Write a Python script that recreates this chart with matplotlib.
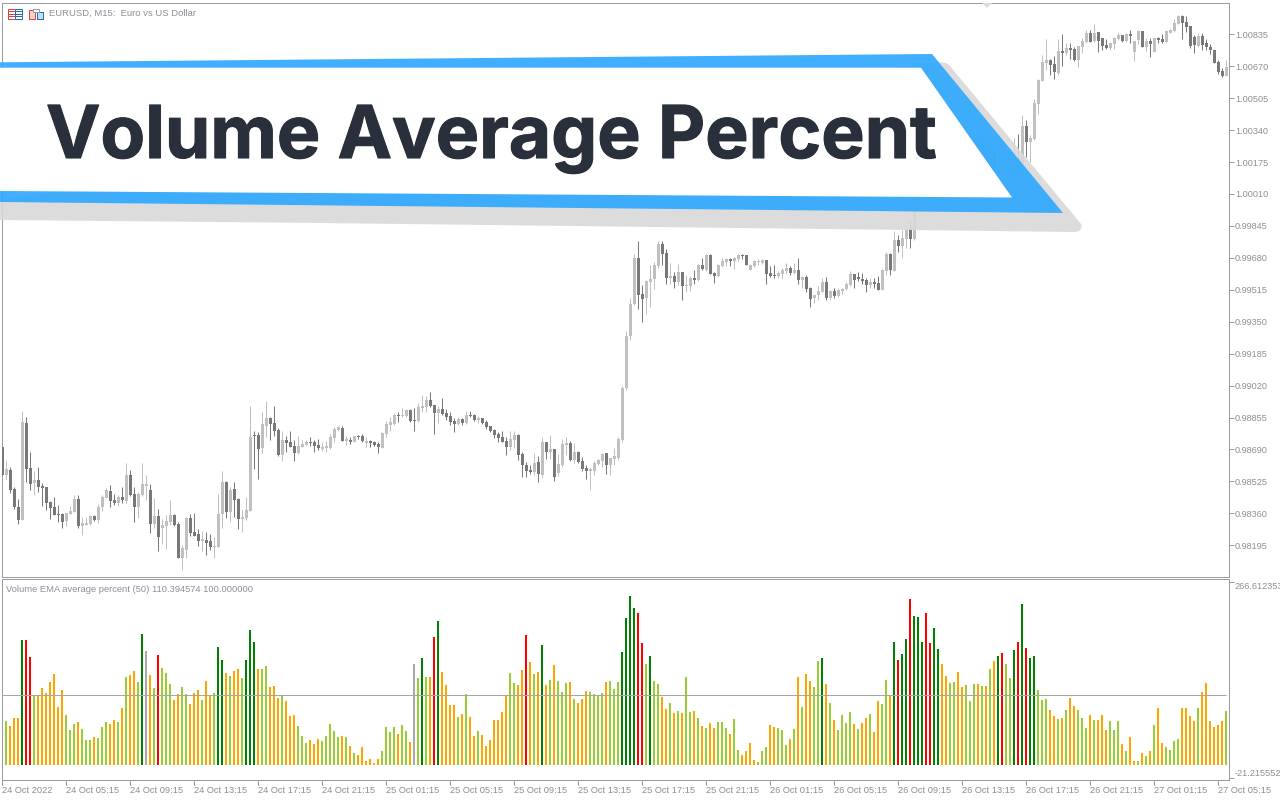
import numpy as np
import matplotlib
matplotlib.use("Agg")
import matplotlib.pyplot as plt
import matplotlib.patheffects as pe
from matplotlib.patches import Polygon, Rectangle

W, H = 1280, 800

# ---- price data: points above 0.98000, one entry per 15 minute bar
BASE_PRICE = 0.98
POINT = 1e-5
candle_high = [703,
 631,600,496,434,889,858,677,579,600,517, 496,424,445,403,362,362,398,455,455,341,
 341,352,352,408,455,491,507,460,455,496, 620,584,496,470,620,558,512,439,383,331,
 352,429,357,315,197,341,357,362,279,269, 264,253,238,460,579,527,496,522,439,377,
 445,915,786,780,884,941,858,915,801,786, 760,786,739,760,739,739,755,739,744,729,
 734,770,806,811,811,760,755,760,765,770, 755,739,734,729,780,837,858,878,884,904,
 899,899,904,930,972,966,987,920,915,956, 899,884,853,858,853,889,889,873,863,853,
 842,811,796,780,786,755,786,786,770,677, 625,610,672,656,755,729,765,693,667,744,
 755,734,724,682,651,610,600,631,641,672, 672,646,698,755,1018,1302,1473,1700,1768,1540,
 1566,1644,1659,1768,1768,1726,1654,1607,1649,1607, 1592,1587,1618,1649,1680,1700,1700,1607,1649,1680,
 1680,1680,1685,1700,1700,1695,1649,1669,1675,1675, 1669,1638,1644,1613,1628,1654,1638,1654,1680,1587,
 1592,1530,1489,1535,1576,1582,1514,1525,1525,1525, 1556,1613,1597,1607,1602,1576,1576,1576,1587,1623,
 1711,1705,1819,1799,1824,1850,1871,2030,2082,2082, 2117,2134,2151,2168,2185,2203,2220,2254,2272,2315,
 2323,2340,2332,2315,2289,2289,2254,2246,2151,2108, 2082,2151,2297,2320,2418,2392,2315,2501,2604,2728,
 2811,2707,2723,2811,2836,2790,2790,2769,2774,2816, 2857,2857,2888,2847,2816,2811,2790,2821,2847,2831,
 2842,2857,2800,2857,2852,2816,2816,2816,2821,2836, 2857,2862,2914,2935,2935,2929,2878,2831,2842,2842,
 2811,2785,2754,2702,2661,2702]
candle_body_top = [703,
 589,584,486,393,832,827,594,532,532,501, 496,419,393,357,357,362,372,434,434,310,
 310,346,346,393,445,481,476,429,445,445, 558,558,460,460,512,512,481,346,346,300,
 321,352,352,305,181,336,336,264,253,228, 222,217,191,357,522,522,481,486,434,341,
 377,755,765,765,822,853,853,827,791,739, 739,729,708,708,718,729,729,729,713,703,
 708,755,796,806,801,744,739,760,760,760, 734,734,729,718,775,822,832,868,868,868,
 894,894,842,910,915,946,946,920,899,899, 878,863,837,848,848,868,868,868,853,853,
 832,811,791,770,755,734,744,765,765,667, 610,584,620,625,729,729,693,693,615,718,
 724,724,677,677,631,594,589,620,636,667, 672,646,656,744,1008,1276,1442,1680,1680,1494,
 1561,1571,1644,1752,1752,1705,1587,1587,1607,1607, 1540,1576,1576,1644,1644,1695,1695,1602,1644,1664,
 1675,1675,1680,1695,1695,1695,1644,1664,1664,1669, 1669,1602,1592,1602,1618,1628,1628,1618,1618,1582,
 1582,1525,1489,1509,1556,1556,1509,1509,1514,1520, 1545,1597,1597,1582,1571,1566,1556,1556,1551,1618,
 1700,1700,1773,1773,1783,1830,1830,1990,2056,2056, 2099,2117,2117,2151,2151,2185,2185,2237,2237,2289,
 2306,2315,2306,2304,2278,2280,2237,2234,2134,2099, 2074,2134,2194,2189,2361,2361,2299,2480,2599,2692,
 2702,2702,2681,2749,2749,2764,2764,2759,2774,2800, 2842,2842,2842,2847,2816,2780,2790,2816,2831,2831,
 2836,2836,2800,2852,2852,2800,2800,2816,2816,2811, 2852,2857,2893,2929,2929,2898,2878,2821,2826,2826,
 2790,2769,2754,2692,2645,2666]
candle_body_bottom = [558,
 558,481,393,326,326,589,512,517,496,491, 414,388,352,352,315,321,357,367,295,295,
 300,305,326,326,393,439,424,414,414,429, 424,455,393,393,455,501,305,305,238,284,
 295,315,300,129,129,171,259,243,217,217, 207,186,186,186,357,367,367,429,331,331,
 336,372,760,693,698,811,822,786,662,662, 724,703,672,672,703,713,724,708,698,693,
 698,698,749,791,734,734,729,729,755,734, 724,724,713,703,698,770,817,822,863,863,
 863,837,837,837,904,910,915,878,878,873, 858,832,822,822,827,827,863,842,842,827,
 806,786,765,749,729,703,703,739,662,610, 579,574,574,563,558,677,677,548,569,610,
 713,636,636,625,589,579,579,579,615,631, 610,610,641,646,739,1008,1277,1442,1489,1468,
 1473,1556,1571,1638,1700,1576,1576,1556,1556,1535, 1535,1535,1566,1566,1623,1618,1597,1587,1587,1638,
 1659,1664,1664,1675,1690,1644,1618,1638,1659,1654, 1597,1587,1587,1587,1597,1613,1602,1602,1566,1566,
 1520,1468,1473,1489,1504,1473,1473,1483,1483,1509, 1520,1540,1566,1571,1561,1540,1540,1545,1514,1514,
 1613,1618,1613,1742,1742,1778,1778,1778,1979,1996, 1996,2091,2048,2048,2099,2099,2134,2134,2185,2220,
 2254,2272,2237,2237,2246,2228,2211,2134,2117,2048, 2039,2030,2082,2134,2160,2278,2278,2294,2475,2594,
 2687,2676,2640,2635,2738,2738,2754,2702,2702,2769, 2795,2795,2800,2800,2774,2764,2764,2785,2811,2800,
 2800,2826,2743,2805,2769,2769,2785,2743,2805,2795, 2795,2842,2852,2888,2893,2873,2774,2780,2774,2780,
 2769,2754,2687,2640,2619,2619]
candle_low = [558,
 538,465,383,305,326,522,481,455,470,398, 377,331,352,315,284,295,357,367,284,248,
 300,300,321,310,372,439,393,403,398,414, 414,450,315,336,450,429,259,284,166,202,
 176,300,295,129,67,129,243,243,191,166, 145,171,129,186,284,336,315,341,279,264,
 326,372,589,538,672,755,739,760,656,631, 677,703,631,667,703,713,708,677,687,682,
 677,693,729,786,734,713,718,729,744,729, 703,703,708,672,698,755,786,817,832,858,
 858,832,786,832,884,884,910,770,827,868, 842,817,780,817,817,822,858,837,827,822,
 796,780,749,729,729,662,687,698,636,548, 548,563,558,522,543,641,641,527,553,600,
 662,631,620,620,579,538,481,558,610,600, 563,558,610,636,729,997,1256,1437,1416,1349,
 1390,1427,1520,1628,1644,1545,1545,1525,1540,1463, 1504,1509,1545,1561,1618,1613,1597,1551,1582,1633,
 1638,1638,1623,1664,1675,1644,1618,1633,1644,1649, 1545,1582,1576,1576,1571,1597,1592,1597,1545,1525,
 1504,1427,1447,1463,1504,1463,1463,1473,1478,1494, 1514,1535,1525,1561,1545,1504,1525,1525,1514,1514,
 1592,1592,1613,1711,1680,1731,1731,1773,1962,1979, 1979,2048,2030,2039,2074,2082,2099,2117,2168,2185,
 2228,2237,2203,2216,2203,2168,2151,2117,2082,1953, 2030,2022,2074,2125,2151,2201,2175,2289,2423,2594,
 2650,2625,2604,2625,2671,2728,2707,2697,2666,2738, 2790,2795,2795,2743,2754,2759,2754,2759,2805,2795,
 2795,2790,2697,2785,2769,2749,2718,2743,2790,2790, 2790,2842,2847,2888,2811,2847,2764,2738,2769,2754,
 2754,2733,2687,2630,2614,2619]
candle_dir = ("d"
 "uddduddudd" "ddddduuudu" "uuduuuddud" "udduuududu" "uudduudddu"
 "dduuududdu" "uudduudddu" "ddduuudddu" "uuuudududd" "uddduuuudu"
 "udduuuddud" "dddududdud" "dddddduudd" "ddudududuu" "ududdduuuu"
 "duuuuuuudd" "uuuuddudud" "uudududduu" "uduudduuuu" "ddduuududu"
 "dduuududuu" "uudddduddu" "ududuuduud" "uududududu" "uuudududud"
 "uuududuuuu" "uddududduu" "ududdduuud" "uduudududd" "uuuuddddud"
 "dddddu")

price_ticks = [1.00835, 1.00670, 1.00505, 1.00340, 1.00175, 1.00010, 0.99845, 0.99680, 0.99515,
               0.99350, 0.99185, 0.99020, 0.98855, 0.98690, 0.98525, 0.98360, 0.98195]

# ---- indicator data: volume as percent of its EMA
volume_percent = [
 63.1,56.0,67.4,67.4,179.4,179.4,155.0,100.0,100.0,110.5, 103.3,119.1,130.6,83.2,107.6,71.8,50.2,58.8,61.7,51.7,
 35.9,35.9,40.2,38.7,54.5,61.7,58.8,64.6,61.7,81.8, 126.3,129.2,134.9,119.1,188.0,163.6,129.2,110.5,157.9,139.2,
 132.0,116.2,93.3,101.9,111.9,101.9,87.5,103.3,107.6,93.3, 120.5,99.0,103.3,169.3,150.7,132.0,127.7,134.9,137.8,124.8,
 150.7,193.7,176.5,137.8,137.8,142.1,111.9,113.4,96.1,99.0, 91.8,70.3,71.8,56.0,41.6,31.6,35.9,30.1,37.3,34.4,
 41.6,58.8,48.8,40.2,41.6,40.2,27.3,17.2,14.4,25.8, 5.7,8.6,2.9,8.6,20.1,54.5,47.4,54.5,44.5,57.4,
 48.8,33.0,144.9,124.8,153.5,126.3,126.3,183.7,206.6,133.5, 114.8,86.1,86.1,68.9,73.2,101.9,68.9,41.6,48.8,43.1,
 27.3,35.9,64.6,64.6,76.1,99.0,132.0,117.7,114.8,136.3, 186.6,147.8,130.6,133.5,172.2,114.8,122.0,143.5,120.5,104.8,
 117.7,119.1,94.7,89.0,94.7,106.2,104.8,101.9,100.5,103.3, 119.1,120.5,109.1,119.1,162.2,210.9,242.5,225.3,218.1,175.1,
 144.9,156.4,120.5,116.2,97.6,80.4,89.0,74.6,77.5,74.6, 126.3,76.1,77.5,67.4,56.0,53.1,60.3,53.1,61.7,61.7,
 53.1,44.5,66.0,21.5,14.4,20.1,31.6,7.2,4.3,20.1, 25.8,57.4,54.5,53.1,50.2,28.7,37.3,51.7,126.3,83.2,
 130.6,120.5,111.9,149.2,153.5,116.2,89.0,64.6,50.2,71.8, 60.3,76.1,58.8,51.7,60.3,67.4,73.2,47.4,91.8,87.5,
 122.0,99.0,176.5,150.7,159.3,180.8,238.2,213.8,212.4,176.5, 218.1,175.1,196.6,166.5,144.9,127.7,117.7,119.1,133.5,111.9,
 114.8,91.8,116.2,116.2,113.4,113.4,137.8,149.2,156.4,160.7, 144.9,124.8,165.0,176.5,231.0,167.9,153.5,156.4,107.6,93.3,
 94.7,78.9,70.3,66.0,67.4,78.9,96.1,84.7,78.9,67.4, 53.1,71.8,64.6,64.6,71.8,50.2,63.1,50.2,63.1,30.1,
 20.1,40.2,5.7,5.7,17.2,12.9,20.1,57.4,81.8,31.6, 25.8,21.5,34.4,37.3,81.8,81.8,70.3,63.1,81.8,104.8,
 117.7,63.1,54.5,57.4,63.1,77.5]
volume_state = (
 "gooodrrgoo" "ooooogggog" "ggogggoogo" "googdsogrg" "ggooggooog"
 "oogddogoog" "dddoggooog" "ooogggooog" "ggggogogoo" "oooogggg" "og"
 "gosgdgordo" "ooogogoogo" "oooooo" "ggoo" "rogodogogg" "gogooogggg"
 "ogggddddrr" "gdggoogogo" "ggogogoogg" "goggoooogg" "googggogog"
 "oogg" "dogogg" "ggogoogoog" "godrddrddd" "rrddooggoo" "gggogogodr"
 "ggdrdrddgg" "googogoogg" "gogooogggo" "googogogoo" "ggggoooogo" "ooooog")
level_100 = 100.0
sub_min, sub_max = -21.215552, 266.612353
sub_labels = ["266.612353", "-21.215552"]

time_labels = ["24 Oct 2022", "24 Oct 05:15", "24 Oct 09:15", "24 Oct 13:15", "24 Oct 17:15",
               "24 Oct 21:15", "25 Oct 01:15", "25 Oct 05:15", "25 Oct 09:15", "25 Oct 13:15",
               "25 Oct 17:15", "25 Oct 21:15", "26 Oct 01:15", "26 Oct 05:15", "26 Oct 09:15",
               "26 Oct 13:15", "26 Oct 17:15", "26 Oct 21:15", "27 Oct 01:15", "27 Oct 05:15"]

TITLE = "Volume Average Percent"
CHART_TITLE = "EURUSD, M15:  Euro vs US Dollar"
IND_TITLE = "Volume EMA average percent (50) 110.394574 100.000000"

# ---- style
FONT = "Liberation Sans"
FRAME = "#9a9aa2"
TXT = "#8e8e96"
UP, DOWN = "#c0c0c0", "#787878"
STATE_COLORS = {"o": "#ffa500", "g": "#9acd32", "d": "#008000", "r": "#ff0000", "s": "#a9a9a9"}
PX = 72 / 100

plt.rcParams["font.family"] = [FONT, "DejaVu Sans"]
fig = plt.figure(figsize=(W / 100, H / 100), dpi=100, facecolor="white")


def rect(l, t, r, b):
    return [l / W, 1 - b / H, (r - l) / W, (b - t) / H]


L_PX, R_PX = 2.0, 1229.0
ax = fig.add_axes(rect(L_PX, 2.5, R_PX, 577.0))
sub = fig.add_axes(rect(L_PX, 579.2, R_PX, 779.8))

# ---- candles
hi = BASE_PRICE + np.array(candle_high) * POINT
lo = BASE_PRICE + np.array(candle_low) * POINT
top = BASE_PRICE + np.array(candle_body_top) * POINT
bot = BASE_PRICE + np.array(candle_body_bottom) * POINT
cx = np.arange(len(hi)) - 1
cols = [UP if d == "u" else DOWN for d in candle_dir]
# the small shift keeps the snapped 1 px wick on the middle pixel of the 3 px body
ax.vlines(cx - 0.08, lo, hi, colors=cols, linewidth=PX, zorder=2)
ax.bar(cx, np.maximum(top - bot, POINT * 5.2), bottom=bot, width=0.75, color=cols, linewidth=0, zorder=3)
ax.set_xlim((L_PX - 6.5) / 4, (R_PX - 6.5) / 4)
ax.set_ylim(BASE_PRICE + 31.2 * POINT, BASE_PRICE + 2999.1 * POINT)
ax.set_xticks([])
ax.yaxis.tick_right()
ax.set_yticks(price_ticks, labels=[f"{p:.5f}" for p in price_ticks])
ax.tick_params(axis="y", length=4.5 * PX, width=PX, color=FRAME, labelcolor=TXT, labelsize=6.6, pad=1.0)

# ---- volume
vx = np.arange(len(volume_percent))
sub.bar(vx, volume_percent, width=0.5, color=[STATE_COLORS[s] for s in volume_state], linewidth=0, zorder=2)
sub.plot([-1, vx[-1]], [level_100, level_100], color="#a6a6a6", linewidth=PX, zorder=3, solid_capstyle="butt")
sub.set_xlim((L_PX - 6) / 4, (R_PX - 6) / 4)
sub.set_ylim(sub_min, sub_max)
sub.yaxis.tick_right()
sub.set_yticks([263.0, -19.0], labels=sub_labels)
sub.tick_params(axis="y", length=4.5 * PX, width=PX, color=FRAME, labelcolor=TXT, labelsize=6.6, pad=1.0)
for t, va in zip(sub.get_yticklabels(), ["top", "bottom"]):
    t.set_va(va)
sub.set_xticks(np.arange(len(time_labels)) * 16 - 1, labels=time_labels)
sub.tick_params(axis="x", length=5 * PX, width=PX, color=FRAME, labelcolor=TXT, labelsize=6.7, pad=1.0)
for t in sub.get_xticklabels():
    t.set_ha("left")
for a in (ax, sub):
    for s in a.spines.values():
        s.set_color(FRAME)
        s.set_linewidth(PX)

# ---- overlay: banner and captions
ov = fig.add_axes([0, 0, 1, 1], zorder=10)
ov.set_xlim(0, W)
ov.set_ylim(H, 0)
ov.axis("off")
ov.patch.set_alpha(0)

ov.text(6, 589, IND_TITLE, fontsize=6.75, color=TXT, va="center", ha="left")
ov.text(49, 13.5, CHART_TITLE, fontsize=6.8, color=TXT, va="center", ha="left")

GRAY = "#d8d8d8"
ov.add_patch(Polygon([(0, 200), (0, 220), (320, 223), (1075, 232), (1079, 231), (1081.5, 228), (1081.5, 224.5),
                      (950, 66), (946, 63), (938, 62)],
                     closed=True, facecolor=GRAY, edgecolor="none", alpha=0.88))
ov.add_patch(Polygon([(982, 3), (992, 3), (987, 8)], closed=True, facecolor="#dcdcdc", edgecolor="none"))
ov.add_patch(Polygon([(0, 62.3), (932, 54), (1063, 213), (0, 202)], closed=True,
                     facecolor="#2ba7ff", edgecolor="none", alpha=0.9))
ov.add_patch(Polygon([(0, 67.7), (921, 67.7), (1012, 197.5), (0, 191)], closed=True,
                     facecolor="white", edgecolor="none"))
ov.text(46, 158, TITLE, fontsize=52.5, fontweight="bold", fontfamily="Inter", color="#2a303b",
        va="baseline", ha="left", path_effects=[pe.withStroke(linewidth=0.8, foreground="#2a303b")])

# toolbar icons
RED, BLUE = "#e8403c", "#1f6fb5"
ov.add_patch(Rectangle((7.5, 8.5), 7, 10, facecolor="white", edgecolor=RED, linewidth=PX))
ov.add_patch(Rectangle((14.5, 8.5), 7, 10, facecolor="white", edgecolor=BLUE, linewidth=PX))
for yy in (11, 13.5, 16):
    ov.plot([9, 14], [yy, yy], color=RED, linewidth=PX)
    ov.plot([15.5, 20.5], [yy, yy], color=BLUE, linewidth=PX)
ov.add_patch(Rectangle((28.5, 9.5), 6, 9, facecolor="#fbd3cf", edgecolor=RED, linewidth=PX))
ov.add_patch(Rectangle((36.5, 11.5), 6, 7, facecolor="#bfe0f7", edgecolor=BLUE, linewidth=PX))
ov.add_patch(Rectangle((32.5, 8.5), 6, 3, facecolor="white", edgecolor="#9a9aa2", linewidth=PX))

fig.savefig("out.png", dpi=100)
